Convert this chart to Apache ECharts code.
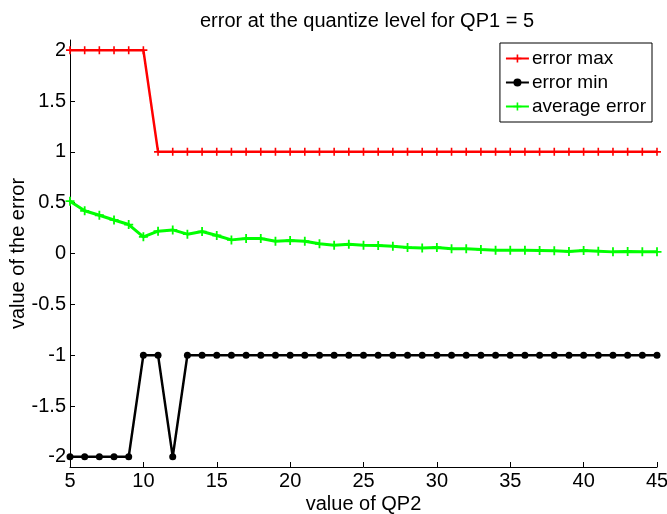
<!DOCTYPE html>
<html><head><meta charset="utf-8">
<script src="https://cdn.jsdelivr.net/npm/echarts@6/dist/echarts.min.js"></script>
<style>html,body{margin:0;padding:0;background:#fff}#c{width:667px;height:514px}</style>
</head><body><div id="c"></div>
<script>
const qp2 = [5,6,7,8,9,10,11,12,13,14,15,16,17,18,19,20,21,22,23,24,25,26,27,28,29,30,31,32,33,34,35,36,37,38,39,40,41,42,43,44,45];
const errorMax = [2,2,2,2,2,2,1,1,1,1,1,1,1,1,1,1,1,1,1,1,1,1,1,1,1,1,1,1,1,1,1,1,1,1,1,1,1,1,1,1,1];
const errorMin = [-2,-2,-2,-2,-2,-1,-1,-2,-1,-1,-1,-1,-1,-1,-1,-1,-1,-1,-1,-1,-1,-1,-1,-1,-1,-1,-1,-1,-1,-1,-1,-1,-1,-1,-1,-1,-1,-1,-1,-1,-1];
const averageError = [0.515,0.42,0.376,0.33,0.285,0.164,0.22,0.232,0.19,0.216,0.177,0.134,0.147,0.147,0.121,0.128,0.121,0.095,0.082,0.092,0.082,0.079,0.072,0.059,0.053,0.059,0.046,0.046,0.039,0.033,0.033,0.033,0.03,0.026,0.02,0.03,0.023,0.016,0.02,0.016,0.016];
const yTicks = [-2,-1.5,-1,-0.5,0,0.5,1,1.5,2];
const seriesNames = ['error max','error min','average error'];

const font = 'Liberation Sans, Arial, sans-serif';
const plus = 'path://M4,0h2v4h4v2h-4v4h-2v-4h-4v-2h4z';
const pair = arr => qp2.map((x,i)=>[x,arr[i]]);
const chart = echarts.init(document.getElementById('c'));
chart.setOption({
  animation:false,
  backgroundColor:'#fff',
  title:{text:'error at the quantize level for QP1 = 5',left:362,textAlign:'center',top:6,
    textStyle:{fontFamily:font,fontSize:20,fontWeight:'normal',color:'#000'}},
  legend:{right:15,top:43,orient:'vertical',itemGap:5,itemWidth:23,itemHeight:10,
    padding:[6,6,6,5],borderColor:'#000',borderWidth:1,backgroundColor:'#fff',
    textStyle:{fontFamily:font,fontSize:19,color:'#000',padding:[0,0,0,-2]},
    data:seriesNames},
  grid:{left:70,right:10,top:40,bottom:47,containLabel:false,outerBoundsMode:'none'},
  xAxis:{type:'value',min:5,max:45,interval:5,
    name:'value of QP2',nameLocation:'middle',nameGap:27,nameMoveOverlap:false,
    nameTextStyle:{fontFamily:font,fontSize:20,color:'#000'},
    axisLine:{onZero:false,lineStyle:{color:'#000',width:1}},
    axisTick:{inside:true,length:5,lineStyle:{color:'#000'}},
    axisLabel:{fontFamily:font,fontSize:20,color:'#000',margin:4},
    splitLine:{show:false}},
  yAxis:{type:'value',min:-2.1,max:2.1,
    name:'value of the error',nameLocation:'middle',nameGap:42,nameMoveOverlap:false,
    nameTextStyle:{fontFamily:font,fontSize:20,color:'#000'},
    axisLine:{show:true,onZero:false,lineStyle:{color:'#000',width:1}},
    axisTick:{show:true,inside:true,length:5,customValues:yTicks,lineStyle:{color:'#000'}},
    axisLabel:{fontFamily:font,fontSize:20,color:'#000',margin:4,customValues:yTicks},
    splitLine:{show:false}},
  series:[
    {name:seriesNames[0],type:'line',data:pair(errorMax),symbol:plus,symbolSize:8,
      color:'#ff0000',lineStyle:{width:2.5,color:'#ff0000'},itemStyle:{color:'#ff0000'}},
    {name:seriesNames[1],type:'line',data:pair(errorMin),symbol:'circle',symbolSize:7,
      color:'#000',lineStyle:{width:2.5,color:'#000'},itemStyle:{color:'#000'}},
    {name:seriesNames[2],type:'line',data:pair(averageError),symbol:plus,symbolSize:9,
      color:'#00ff00',lineStyle:{width:3,color:'#00ff00'},itemStyle:{color:'#00ff00'}}
  ]
});
</script></body></html>
